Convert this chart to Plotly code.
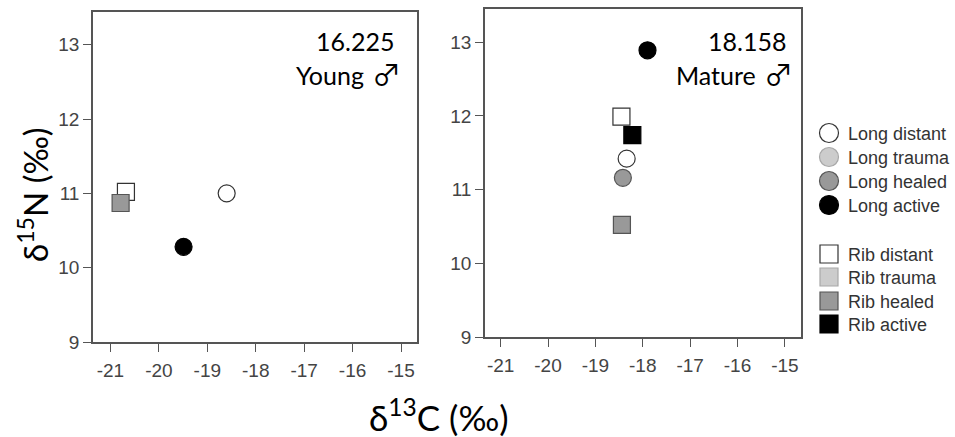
import plotly.graph_objects as go

# ---- data -------------------------------------------------------------
categories = ["Long distant", "Long trauma", "Long healed", "Long active",
              "Rib distant", "Rib trauma", "Rib healed", "Rib active"]

# Young male (16.225): d13C / d15N per category
young_d13c = {"Long distant": [-18.60], "Long active": [-19.49],
              "Rib distant": [-20.68], "Rib healed": [-20.79]}
young_d15n = {"Long distant": [11.00], "Long active": [10.28],
              "Rib distant": [11.02], "Rib healed": [10.87]}

# Mature male (18.158)
mature_d13c = {"Long distant": [-18.34], "Long healed": [-18.42], "Long active": [-17.90],
               "Rib distant": [-18.45], "Rib healed": [-18.44], "Rib active": [-18.22]}
mature_d15n = {"Long distant": [11.42], "Long healed": [11.16], "Long active": [12.89],
               "Rib distant": [11.99], "Rib healed": [10.52], "Rib active": [11.74]}

panel_ids = ["16.225", "18.158"]
panel_labels = ["Young", "Mature"]
sex_symbol = "\u2642"

x_ticks = [-21, -20, -19, -18, -17, -16, -15]
x_tick_labels = ["-21", "-20", "-19", "-18", "-17", "-16", "-15"]
y_ticks = [9, 10, 11, 12, 13]
y_tick_labels = ["9", "10", "11", "12", "13"]

# ---- styling ----------------------------------------------------------
W, H = 955, 437
fills = {"distant": "#ffffff", "trauma": "#cccccc", "healed": "#999999", "active": "#000000"}
edges = {"distant": "#333333", "trauma": "#a8a8a8", "healed": "#555555", "active": "#000000"}
AXIS_COL = "#555555"
TICK_FONT = dict(family="Liberation Sans, Arial, sans-serif", size=19, color="#444444")
TITLE_FONT = "Lato, Carlito, Calibri, sans-serif"
SYMBOL_FONT = "Noto Sans CJK JP, DejaVu Sans, sans-serif"


def px_x(px):
    return px / W


def px_y(py):
    return 1 - py / H


def style_of(cat):
    shape, kind = cat.split(" ")
    return ("circle" if shape == "Long" else "square"), kind


fig = go.Figure()

panels = [(young_d13c, young_d15n, "x", "y"), (mature_d13c, mature_d15n, "x2", "y2")]
for d13c, d15n, xa, ya in panels:
    for cat in categories:
        if cat not in d13c:
            continue
        symbol, kind = style_of(cat)
        fig.add_trace(go.Scatter(
            x=d13c[cat], y=d15n[cat], xaxis=xa, yaxis=ya, mode="markers",
            name=cat, showlegend=False,
            marker=dict(symbol=symbol, size=17, color=fills[kind],
                        line=dict(color=edges[kind], width=1.2)),
        ))

axis_common = dict(
    showgrid=False, zeroline=False, showline=True, mirror=True, automargin=False,
    linecolor=AXIS_COL, linewidth=1.5, ticks="outside", ticklen=8,
    tickwidth=1, tickcolor=AXIS_COL, tickfont=TICK_FONT,
)

fig.update_layout(
    width=W, height=H,
    margin=dict(l=0, r=0, t=0, b=0, pad=0, autoexpand=False),
    paper_bgcolor="white", plot_bgcolor="white",
    showlegend=False,
    xaxis=dict(domain=[px_x(93), px_x(417)], range=[-21.36, -14.67], anchor="y",
               tickvals=x_ticks, ticktext=x_tick_labels, ticklabelstandoff=2, **axis_common),
    yaxis=dict(domain=[px_y(342), px_y(12)], range=[9, 13.44], anchor="x",
               tickvals=y_ticks, ticktext=y_tick_labels, **axis_common),
    xaxis2=dict(domain=[px_x(485), px_x(801)], range=[-21.33, -14.66], anchor="y2",
                tickvals=x_ticks, ticktext=x_tick_labels, ticklabelstandoff=2, **axis_common),
    yaxis2=dict(domain=[px_y(337), px_y(9)], range=[9, 13.45], anchor="x2",
                tickvals=y_ticks, ticktext=y_tick_labels, **axis_common),
)

annotations = []
# panel headers: id number, then age group followed by the sex symbol
for pid, plab, xr in zip(panel_ids, panel_labels, [396, 788]):
    annotations.append(dict(text=pid, x=px_x(xr), y=px_y(41), xref="paper", yref="paper",
                            xanchor="right", yanchor="middle", showarrow=False,
                            font=dict(family=TITLE_FONT, size=25, color="#000000")))
    annotations.append(dict(text=plab, x=px_x(xr - 30), y=px_y(75),
                            xref="paper", yref="paper",
                            xanchor="right", yanchor="middle", showarrow=False,
                            font=dict(family=TITLE_FONT, size=25, color="#000000")))
    annotations.append(dict(text=sex_symbol, x=px_x(xr - 10), y=px_y(73),
                            xref="paper", yref="paper",
                            xanchor="center", yanchor="middle", showarrow=False,
                            font=dict(family=SYMBOL_FONT, size=29, color="#000000")))

# axis titles
annotations.append(dict(text="\u03b4<sup>13</sup>C (\u2030)", x=px_x(438), y=px_y(415),
                        xref="paper", yref="paper", xanchor="center", yanchor="middle",
                        showarrow=False, font=dict(family=TITLE_FONT, size=35, color="#000000")))
annotations.append(dict(text="\u03b4<sup>15</sup>N (\u2030)", x=px_x(33), y=px_y(195),
                        xref="paper", yref="paper", xanchor="center", yanchor="middle",
                        textangle=-90, showarrow=False,
                        font=dict(family=TITLE_FONT, size=33, color="#000000")))

# legend key (two groups: long bones as circles, ribs as squares)
legend_rows = [133, 157, 181, 205, 254, 277, 301, 324]
shapes = []
for cat, cy in zip(categories, legend_rows):
    symbol, kind = style_of(cat)
    cx = 829
    r = 9.5 if symbol == "circle" else 9
    shapes.append(dict(type="circle" if symbol == "circle" else "rect",
                       xref="paper", yref="paper",
                       x0=px_x(cx - r), x1=px_x(cx + r), y0=px_y(cy + r), y1=px_y(cy - r),
                       fillcolor=fills[kind], line=dict(color=edges[kind], width=1.2)))
    annotations.append(dict(text=cat, x=px_x(846), y=px_y(cy + 1), xref="paper", yref="paper",
                            xanchor="left", yanchor="middle", showarrow=False,
                            font=dict(family="Liberation Sans, Arial, sans-serif", size=18,
                                      color="#333333")))

fig.update_layout(annotations=annotations, shapes=shapes)

fig.write_html("out.html")
